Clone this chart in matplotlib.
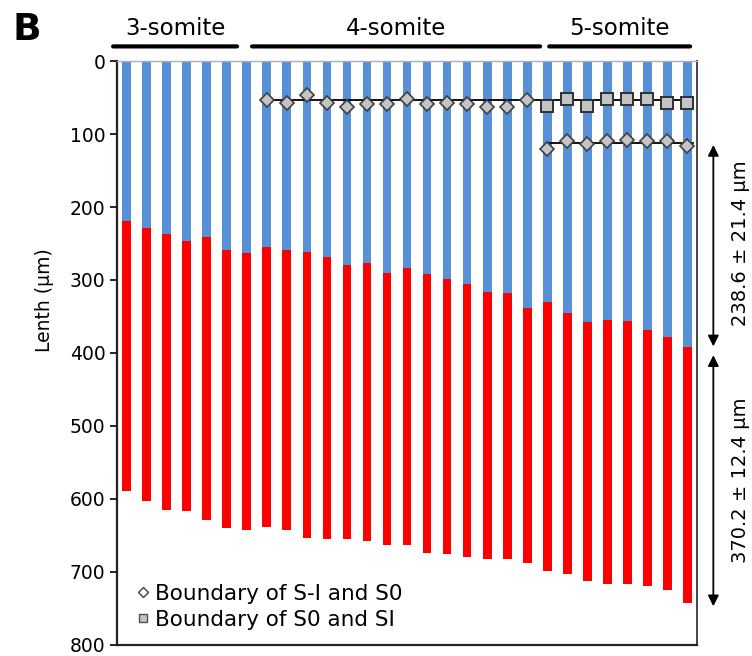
import numpy as np
import matplotlib
matplotlib.use("Agg")
import matplotlib.pyplot as plt
from matplotlib.lines import Line2D

# embryo groups and bar counts
groups = ["3-somite", "4-somite", "5-somite"]
group_counts = [7, 14, 8]

# boundary between blue (posterior PSM) and red segments, um
red_top = [219, 229, 237, 247, 241, 259, 263,
           255, 259, 261, 269, 279, 277, 290, 283, 292, 298, 306, 316, 318, 339,
           330, 345, 357, 355, 356, 368, 378, 392]
# total length, um
total_len = [589, 603, 615, 617, 629, 640, 642,
             638, 643, 653, 655, 655, 657, 663, 663, 674, 676, 680, 682, 682, 688,
             698, 703, 712, 717, 717, 719, 725, 743]

# boundary of S-I and S0 (diamonds), bars 7..28
diamond_idx = list(range(7, 29))
diamond_val = [53, 57, 47, 57, 63, 59, 59, 52, 59, 57, 59, 63, 63, 54,
               121, 109, 114, 110, 108, 110, 109, 116]
# boundary of S0 and SI (squares), bars 21..28
square_idx = list(range(21, 29))
square_val = [62, 52, 61, 52, 52, 52, 57, 58]

# mean boundary levels (black lines)
upper_level = 54
lower_level = 113

annot_upper = "238.6 ± 21.4 µm"
annot_lower = "370.2 ± 12.4 µm"

blue = "#5890d8"
red = "#ff0000"
grey = "#c4c4c4"

n = len(red_top)
x = np.arange(n)
red_top = np.array(red_top)
total_len = np.array(total_len)

fig = plt.figure(figsize=(7.52, 6.56), dpi=100)
ax = fig.add_axes([0.1552, 0.0168, 0.7721, 0.8902])

w = 0.44
ax.bar(x, red_top, width=w, bottom=0, color=blue, zorder=2)
ax.bar(x, total_len - red_top, width=w, bottom=red_top, color=red, zorder=2)

# mean lines
ax.plot([7, 28.3], [upper_level, upper_level], color="black", lw=1.3, zorder=3)
ax.plot([21, 28.3], [lower_level, lower_level], color="black", lw=1.3, zorder=3)

ax.plot(diamond_idx, diamond_val, ls="none", marker="D", ms=7.5,
        mfc=grey, mec="#404040", mew=1.2, zorder=4)
ax.plot(square_idx, square_val, ls="none", marker="s", ms=9,
        mfc=grey, mec="#303030", mew=1.4, zorder=4)

ax.set_xlim(-0.5, 28.5)
ax.set_ylim(800, 0)
ax.set_yticks(np.arange(0, 801, 100))
ax.set_xticks([])
ax.tick_params(axis="y", labelsize=13.5, length=5, width=1.2, pad=3)
ax.set_ylabel("Lenth (µm)", fontsize=13.5)
ax.yaxis.set_label_coords(-0.108, 0.59)

for s in ["left", "bottom"]:
    ax.spines[s].set_color("#222222")
    ax.spines[s].set_linewidth(1.6)
ax.spines["right"].set_color("#444444")
ax.spines["right"].set_linewidth(1.4)
ax.spines["top"].set_color("#b0b0b0")
ax.spines["top"].set_linewidth(1.0)

# group labels above the plot
spans = [(-0.68, 5.51), (6.26, 20.65), (21.1, 28.14)]
for name, (a, b) in zip(groups, spans):
    ax.annotate("", xy=(a, 1.025), xytext=(b, 1.025), xycoords=("data", "axes fraction"),
                arrowprops=dict(arrowstyle="-", lw=3, color="black", shrinkA=0, shrinkB=0),
                annotation_clip=False)
    ax.text((a + b) / 2, 1.036, name, transform=ax.get_xaxis_transform(),
            ha="center", va="bottom", fontsize=16.5, clip_on=False)

# double arrows on the right
ax.annotate("", xy=(29.3, 115), xytext=(29.3, 391), annotation_clip=False,
            arrowprops=dict(arrowstyle="<|-|>", lw=1.3, color="black",
                            mutation_scale=16, shrinkA=0, shrinkB=0))
ax.annotate("", xy=(29.3, 403), xytext=(29.3, 747), annotation_clip=False,
            arrowprops=dict(arrowstyle="<|-|>", lw=1.3, color="black",
                            mutation_scale=16, shrinkA=0, shrinkB=0))
ax.text(30.65, 250, annot_upper, rotation=90, ha="center", va="center",
        fontsize=14, clip_on=False)
ax.text(30.65, 575, annot_lower, rotation=90, ha="center", va="center",
        fontsize=14, clip_on=False)

handles = [
    Line2D([], [], ls="none", marker="D", ms=5, mfc="white", mec="#404040", mew=1),
    Line2D([], [], ls="none", marker="s", ms=6, mfc=grey, mec="#505050", mew=1),
]
ax.legend(handles, ["Boundary of S-I and S0", "Boundary of S0 and SI"],
          loc="lower left", bbox_to_anchor=(0.008, 0.0), frameon=False,
          fontsize=15.5, handlelength=0.6, handletextpad=0.25, labelspacing=0.28,
          borderpad=0.2)

fig.text(0.036, 0.954, "B", fontsize=27, fontweight="bold", ha="center", va="center")

fig.savefig("out.png", dpi=100)
